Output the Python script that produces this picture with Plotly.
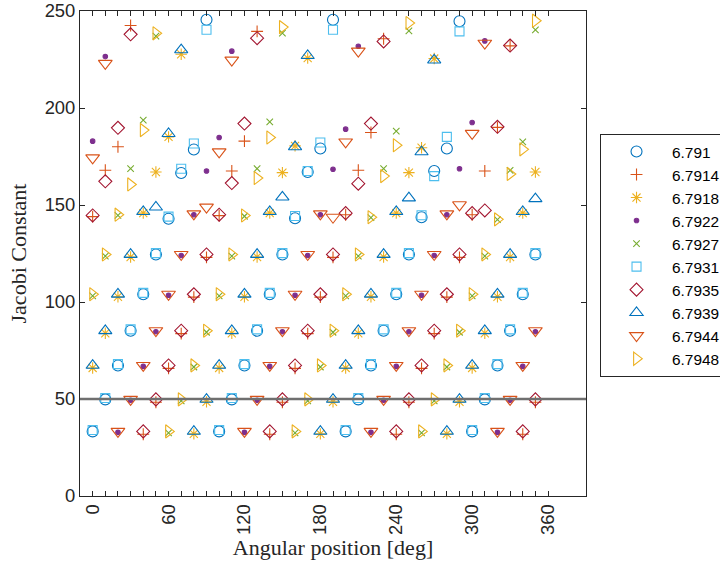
import plotly.graph_objects as go

# ---------------- data ----------------
angles = [0, 10, 20, 30, 40, 50, 60, 70, 80, 90,
          100, 110, 120, 130, 140, 150, 160, 170, 180, 190,
          200, 210, 220, 230, 240, 250, 260, 270, 280, 290,
          300, 310, 320, 330, 340, 350]

series_names = ["6.791", "6.7914", "6.7918", "6.7922", "6.7927",
                "6.7931", "6.7935", "6.7939", "6.7944", "6.7948"]

y_6791 = [33.3, 49.8, 67.3, 85.2, 104.0, 124.5, 142.9, 166.5, 178.6, 245.5,
          33.3, 49.8, 67.3, 85.2, 104.0, 124.5, 143.2, 167.0, 179.1, 245.5,
          33.3, 49.8, 67.3, 85.2, 104.0, 124.5, 143.7, 167.5, 179.1, 244.7,
          33.3, 49.8, 67.3, 85.2, 104.0, 124.5]

y_67914 = [144.0, 167.9, 180.0, 242.5, 31.8, 48.3, 65.8, 83.7, 102.5, 123.0,
           144.5, 167.5, 182.9, 239.5, 31.8, 48.3, 65.8, 83.7, 102.5, 123.0,
           145.0, 167.9, 187.4, 235.7, 31.8, 48.3, 65.8, 83.7, 102.5, 123.0,
           145.0, 167.5, 190.0, 232.0, 31.8, 48.3]

y_67918 = [66.0, 83.9, 102.7, 123.2, 145.8, 167.0, 185.1, 227.7, 32.0, 48.5,
           66.0, 83.9, 102.7, 123.2, 145.8, 166.7, 180.5, 225.7, 32.0, 48.5,
           66.0, 83.9, 102.7, 123.2, 145.8, 166.7, 179.5, 225.5, 32.0, 48.5,
           66.0, 83.9, 102.7, 123.2, 145.8, 167.0]

y_67922 = [182.9, 226.5, 32.8, 49.3, 66.8, 84.7, 103.5, 124.0, 145.0, 167.5,
           184.8, 229.3, 32.8, 49.3, 66.8, 84.7, 103.5, 124.0, 145.0, 168.4,
           189.1, 231.8, 32.8, 49.3, 66.8, 84.7, 103.5, 124.0, 145.0, 168.7,
           192.5, 234.6, 32.8, 49.3, 66.8, 84.7]

y_67927 = [103.2, 123.7, 144.6, 168.7, 193.7, 237.0, 32.5, 49.0, 66.5, 84.4,
           103.2, 123.7, 144.2, 168.7, 192.9, 238.6, 32.5, 49.0, 66.5, 84.4,
           103.2, 123.7, 143.5, 168.7, 188.1, 239.8, 32.5, 49.0, 66.5, 84.4,
           103.2, 123.7, 142.5, 167.9, 182.5, 240.3]

y_67931 = [34.0, 50.5, 68.0, 85.9, 104.7, 125.2, 144.0, 168.7, 181.7, 240.3,
           34.0, 50.5, 68.0, 85.9, 104.7, 125.2, 144.3, 167.5, 182.2, 240.3,
           34.0, 50.5, 68.0, 85.9, 104.7, 125.2, 144.7, 164.9, 185.1, 239.5,
           34.0, 50.5, 68.0, 85.9, 104.7, 125.2]

y_67935 = [144.6, 162.2, 189.8, 238.0, 33.3, 49.8, 67.3, 85.2, 104.0, 124.5,
           145.0, 161.3, 192.0, 236.0, 33.3, 49.8, 67.3, 85.2, 104.0, 124.5,
           145.8, 161.0, 192.0, 234.3, 33.3, 49.8, 67.3, 85.2, 104.0, 124.5,
           145.8, 147.2, 190.3, 232.2, 33.3, 49.8]

y_67939 = [67.3, 85.2, 104.0, 124.5, 146.6, 148.9, 186.8, 230.0, 33.3, 49.8,
           67.3, 85.2, 104.0, 124.5, 146.6, 154.1, 180.0, 227.0, 33.3, 49.8,
           67.3, 85.2, 104.0, 124.5, 146.6, 153.6, 177.4, 224.7, 33.3, 49.8,
           67.3, 85.2, 104.0, 124.5, 146.6, 153.2]

y_67944 = [174.3, 223.0, 33.3, 49.8, 67.3, 85.2, 104.0, 124.5, 145.4, 148.9,
           177.4, 224.7, 33.3, 49.8, 67.3, 85.2, 104.0, 124.5, 145.4, 143.7,
           182.5, 229.3, 33.3, 49.8, 67.3, 85.2, 104.0, 124.5, 145.4, 150.1,
           186.9, 233.4, 33.3, 49.8, 67.3, 85.2]

y_67948 = [104.0, 124.5, 145.0, 160.6, 188.6, 238.5, 33.3, 49.8, 67.3, 85.2,
           104.0, 124.5, 144.6, 163.9, 184.8, 241.7, 33.3, 49.8, 67.3, 85.2,
           104.0, 124.5, 143.7, 164.9, 180.8, 243.8, 33.3, 49.8, 67.3, 85.2,
           104.0, 124.5, 142.6, 166.0, 178.7, 245.0]

series_values = [y_6791, y_67914, y_67918, y_67922, y_67927,
                 y_67931, y_67935, y_67939, y_67944, y_67948]

x_tick_values = list(range(0, 361, 10))
x_tick_labels = [str(v) if v % 60 == 0 else "" for v in x_tick_values]
y_tick_values = [0, 50, 100, 150, 200, 250]
ref_line_y = 50

# ---------------- styles ----------------
styles = [
    dict(symbol="circle-open", color="#0072BD", size=11),
    dict(symbol="cross-thin-open", color="#D95319", size=8.5),
    dict(symbol="asterisk-open", color="#EDB120", size=9.5),
    dict(symbol="circle", color="#7E2F8E", size=4.5),
    dict(symbol="x-thin-open", color="#77AC30", size=6.5),
    dict(symbol="square-open", color="#4DBEEE", size=9),
    dict(symbol="diamond-open", color="#A2142F", size=10),
    dict(symbol="triangle-up-open", color="#0072BD", size=11.5),
    dict(symbol="triangle-down-open", color="#D95319", size=12),
    dict(symbol="triangle-right-open", color="#EDB120", size=11.5),
]

fig = go.Figure()
for name, vals, st in zip(series_names, series_values, styles):
    fig.add_trace(go.Scatter(
        x=angles, y=vals, mode="markers", name=name,
        marker=dict(symbol=st["symbol"], color=st["color"], size=st["size"],
                    line=dict(color=st["color"], width=1.1)),
    ))

fig.add_hline(y=ref_line_y, line=dict(color="#6f6f6f", width=2.5), layer="above")

axis_color = "#262626"
tick_font = dict(family="Liberation Sans, Arial, sans-serif", size=18.4, color=axis_color)
title_font = dict(family="Liberation Serif, Times New Roman, serif", size=22, color=axis_color)

fig.update_layout(
    width=720, height=564,
    margin=dict(l=80, r=134, t=11, b=68, autoexpand=False),
    paper_bgcolor="white", plot_bgcolor="white",
    showlegend=True,
    legend=dict(x=1.0277, y=0.7464, xanchor="left", yanchor="top",
                bordercolor=axis_color, borderwidth=1, bgcolor="white",
                font=dict(family="Liberation Sans, Arial, sans-serif", size=15.4, color="black"),
                itemwidth=61, tracegroupgap=0),
    xaxis=dict(range=[-10, 390], tickmode="array", tickvals=x_tick_values,
               ticktext=x_tick_labels, tickangle=-90, ticks="inside", ticklen=5,
               tickcolor=axis_color, showline=True, linecolor=axis_color, linewidth=1,
               mirror="ticks", showgrid=False, zeroline=False, tickfont=tick_font,
               title=dict(text="Angular position [deg]", font=title_font, standoff=2)),
    yaxis=dict(range=[0, 250], tickmode="array", tickvals=y_tick_values,
               ticks="inside", ticklen=5, tickcolor=axis_color, showline=True,
               linecolor=axis_color, linewidth=1, mirror="ticks", showgrid=False,
               zeroline=False, tickfont=tick_font, ticklabeloverflow="allow",
               title=dict(text="Jacobi Constant", font=title_font, standoff=11)),
)

fig.write_html("out.html", config={"staticPlot": True, "displayModeBar": False},
               post_script="document.body.style.margin='0px';")
